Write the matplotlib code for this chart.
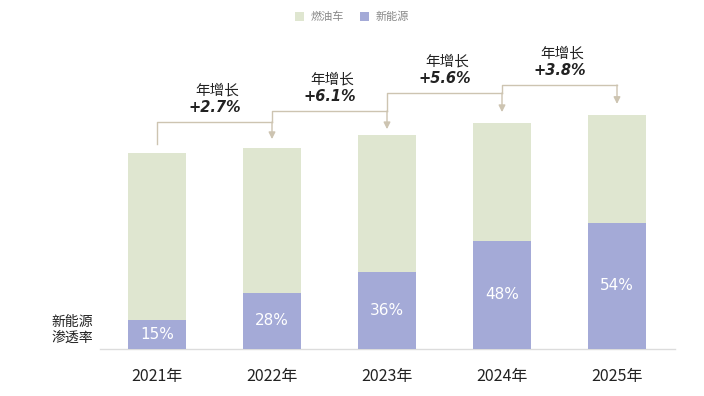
import matplotlib
matplotlib.use("Agg")
import matplotlib.pyplot as plt
from matplotlib.patches import Patch

plt.rcParams['font.family'] = ['Noto Sans CJK SC', 'DejaVu Sans']

years = ['2021年', '2022年', '2023年', '2024年', '2025年']
growth = [2.7, 6.1, 5.6, 3.8]          # year-over-year growth, %
nev_share = [15, 28, 36, 48, 54]       # 新能源渗透率, %

# totals as an index (2021 = 100) built from growth
totals = [100.0]
for g in growth:
    totals.append(totals[-1] * (1 + g / 100))
nev = [t * s / 100 for t, s in zip(totals, nev_share)]
ice = [t - n for t, n in zip(totals, nev)]

GREEN = '#dfe6d0'
BLUE = '#a4aad7'
LINE = '#cdc4b1'

fig = plt.figure(figsize=(7.04, 3.96), dpi=100)
ax = fig.add_axes([0, 0, 1, 1])
ax.set_xlim(-157 / 115, (704 - 157) / 115)
ax.set_ylim(-47 / 1.96, (396 - 47) / 1.96)
ax.axis('off')

x = list(range(len(years)))
w = 0.51
ax.bar(x, nev, width=w, color=BLUE, zorder=2)
ax.bar(x, ice, bottom=nev, width=w, color=GREEN, zorder=2)

# baseline
ax.plot([-0.5, 4.5], [0, 0], color='#dcdcdc', lw=1.0, zorder=1)

for xi, n, s in zip(x, nev, nev_share):
    ax.text(xi, n / 2, f'{s}%', ha='center', va='center', color='white',
            fontsize=11, family=['DejaVu Sans'], zorder=3)

for xi, y in zip(x, years):
    ax.text(xi, -14, y, ha='center', va='center', fontsize=11.5, color='#222222')

ax.text(-0.74, 9.7, '新能源\n渗透率', ha='center', va='center', fontsize=10,
        color='#222222', linespacing=1.2, style='italic')

# growth connectors
levels = [115.8, 121.4, 130.6, 134.7]
tip_gap = [4.4, 3.2, 5.8, 5.6]
start_y = totals[0] + 4.5
for i, g in enumerate(growth):
    lv = levels[i]
    y0 = start_y if i == 0 else levels[i - 1]
    ax.plot([i, i, i + 1], [y0, lv, lv], color=LINE, lw=1.0, zorder=1)
    tip = totals[i + 1] + tip_gap[i]
    ax.annotate('', xy=(i + 1, tip), xytext=(i + 1, lv),
                arrowprops=dict(arrowstyle='-|>,head_length=0.4,head_width=0.2',
                                color=LINE, lw=1.0, shrinkA=0, shrinkB=0))
    xm = i + 0.5
    ax.text(xm + 0.02, lv + 16.0, '年增长', ha='center', va='center', fontsize=10.5,
            color='#222222', style='italic')
    ax.text(xm, lv + 7.2, f'+{g}%', ha='center', va='center', fontsize=10.5,
            color='#222222', fontweight='bold', style='italic', family=['DejaVu Sans'])

handles = [Patch(facecolor=GREEN, label='燃油车'), Patch(facecolor=BLUE, label='新能源')]
fig.legend(handles=handles, loc='center', bbox_to_anchor=(0.5, 1 - 17 / 396), ncol=2,
           frameon=False, fontsize=8, labelcolor='#888888', handlelength=0.8,
           handleheight=0.8, columnspacing=1.5, handletextpad=0.6)

fig.savefig('out.png', dpi=100)
